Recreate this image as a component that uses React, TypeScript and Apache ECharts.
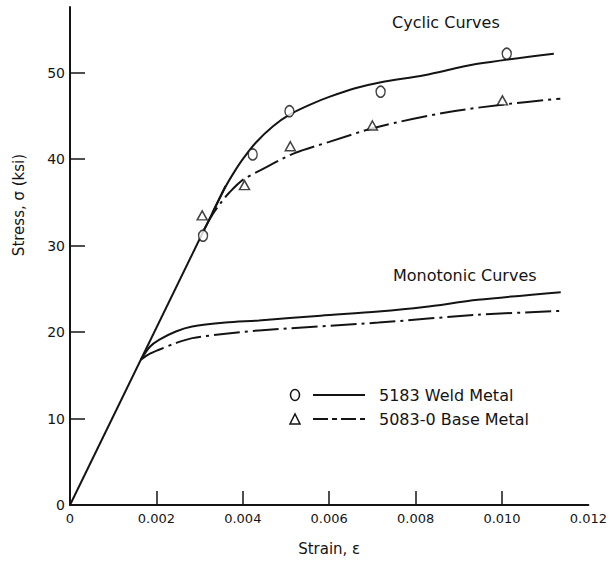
import React, { useEffect, useRef } from "react";
import * as echarts from "echarts";

// Strain tick values and stress tick values
const xTickValues = [0, 0.002, 0.004, 0.006, 0.008, 0.01, 0.012];
const xInnerTicks = [0.002, 0.004, 0.006, 0.008, 0.01];
const yTickValues = [0, 10, 20, 30, 40, 50];

// Shared elastic line [strain, stress ksi]
const elastic: number[][] = [[0, 0], [0.0036, 36.9]];
// Cyclic stress-strain curves
const cyclicWeld: number[][] = [
  [0.0033, 33.8], [0.0036, 36.8], [0.0038, 38.5], [0.004, 40.0],
  [0.0043, 41.9], [0.0047, 43.8], [0.0051, 45.2], [0.0056, 46.4], [0.006, 47.2],
  [0.0066, 48.2], [0.0072, 48.9], [0.0082, 49.7], [0.0094, 51.0], [0.0112, 52.2],
];
const cyclicBase: number[][] = [
  [0.0031, 31.8], [0.0033, 33.6], [0.0035, 35.0], [0.0037, 36.2], [0.004, 37.6],
  [0.0044, 38.7], [0.0052, 40.7], [0.006, 42.0], [0.0071, 43.7], [0.0087, 45.4],
  [0.01, 46.3], [0.01135, 47.0],
];
// Monotonic curves
const monoWeld: number[][] = [
  [0.00164, 16.8], [0.00185, 18.3], [0.00206, 19.1], [0.00245, 20.07], [0.00283, 20.65],
  [0.0036, 21.1], [0.00437, 21.34], [0.0058, 21.9], [0.00714, 22.38], [0.0082, 22.9],
  [0.00944, 23.73], [0.01136, 24.62],
];
const monoBase: number[][] = [
  [0.00164, 16.8], [0.00185, 17.5], [0.00206, 17.96], [0.00245, 18.73], [0.00283, 19.3],
  [0.0036, 19.8], [0.00437, 20.19], [0.00714, 21.1], [0.00944, 22.0], [0.01143, 22.46],
];
// Test points
const weldPoints: number[][] = [
  [0.00308, 31.15], [0.00423, 40.55], [0.00508, 45.55], [0.00719, 47.8], [0.01011, 52.2],
];
const basePoints: number[][] = [
  [0.00306, 33.5], [0.00404, 37.0], [0.0051, 41.5], [0.007, 43.9], [0.01001, 46.8],
];

const FONT = "DejaVu Sans";
const INK = "#141414";
const DASHDOT = [26, 5, 3, 5];

export default function App() {
  const ref = useRef<HTMLDivElement>(null);
  useEffect(() => {
    document.body.style.margin = "0";
    const chart = echarts.init(ref.current!, null, { renderer: "svg" });
    const lineCommon = {
      type: "line" as const,
      showSymbol: false,
      symbol: "none",
      smooth: 0.3,
      silent: true,
    };
    chart.setOption({
      animation: false,
      backgroundColor: "#fff",
      grid: { left: 70, right: 19, top: 7, bottom: 55.5, containLabel: false },
      xAxis: {
        type: "value",
        min: 0,
        max: 0.012,
        interval: 0.002,
        splitLine: { show: false },
        axisLine: { lineStyle: { color: INK, width: 2 } },
        axisTick: {
          inside: true,
          length: 14,
          lineStyle: { color: INK, width: 1.5 },
          customValues: xInnerTicks,
        },
        axisLabel: {
          customValues: xTickValues,
          color: INK,
          fontFamily: FONT,
          fontSize: 13,
          margin: 7,
          formatter: (v: number) => (v === 0 ? "0" : v.toFixed(3)),
        },
        name: "Strain, \u03b5",
        nameLocation: "middle",
        nameGap: 36,
        nameTextStyle: { color: INK, fontFamily: FONT, fontSize: 15 },
      },
      yAxis: {
        type: "value",
        min: 0,
        max: 57.6,
        splitLine: { show: false },
        axisLine: { lineStyle: { color: INK, width: 2 } },
        axisTick: {
          inside: true,
          length: 15,
          lineStyle: { color: INK, width: 1.5 },
          customValues: yTickValues.filter((v) => v > 0),
        },
        axisLabel: {
          customValues: yTickValues,
          color: INK,
          fontFamily: FONT,
          fontSize: 14,
          margin: 5,
        },
      },
      graphic: [
        {
          type: "text",
          x: 19,
          y: 205,
          rotation: Math.PI / 2,
          style: {
            text: "Stress, \u03c3 (ksi)",
            fill: INK,
            font: `15px ${FONT}`,
            align: "center",
            verticalAlign: "middle",
          },
        },
        {
          type: "text",
          x: 392,
          y: 22,
          style: { text: "Cyclic Curves", fill: INK, font: `16px ${FONT}`, verticalAlign: "middle" },
        },
        {
          type: "text",
          x: 393,
          y: 275,
          style: { text: "Monotonic Curves", fill: INK, font: `16px ${FONT}`, verticalAlign: "middle" },
        },
        {
          type: "ellipse",
          shape: { cx: 295, cy: 395, rx: 4.5, ry: 5.5 },
          style: { fill: "none", stroke: INK, lineWidth: 1.5 },
        },
        {
          type: "line",
          shape: { x1: 313, y1: 395, x2: 365, y2: 395 },
          style: { stroke: INK, lineWidth: 2 },
        },
        {
          type: "text",
          x: 379,
          y: 395,
          style: { text: "5183 Weld Metal", fill: INK, font: `16px ${FONT}`, verticalAlign: "middle" },
        },
        {
          type: "polygon",
          shape: { points: [[290, 424], [300, 424], [295, 414]] },
          style: { fill: "none", stroke: INK, lineWidth: 1.5 },
        },
        {
          type: "line",
          shape: { x1: 313, y1: 419, x2: 367, y2: 419 },
          style: { stroke: INK, lineWidth: 2, lineDash: [15, 4, 5, 4] },
        },
        {
          type: "text",
          x: 379,
          y: 419,
          style: { text: "5083-0 Base Metal", fill: INK, font: `16px ${FONT}`, verticalAlign: "middle" },
        },
      ],
      series: [
        { type: "line", name: "Elastic", data: elastic, showSymbol: false, symbol: "none", silent: true, lineStyle: { color: INK, width: 2 }, z: 3 },
        { ...lineCommon, name: "Cyclic 5183 Weld Metal", data: cyclicWeld, lineStyle: { color: INK, width: 2 }, z: 3 },
        { ...lineCommon, name: "Cyclic 5083-0 Base Metal", data: cyclicBase, lineStyle: { color: INK, width: 2, type: DASHDOT }, z: 2 },
        { ...lineCommon, name: "Monotonic 5183 Weld Metal", data: monoWeld, lineStyle: { color: INK, width: 2 }, z: 3 },
        { ...lineCommon, name: "Monotonic 5083-0 Base Metal", data: monoBase, lineStyle: { color: INK, width: 2, type: DASHDOT }, z: 2 },
        {
          type: "scatter",
          name: "5183 Weld Metal",
          data: weldPoints,
          symbol: "circle",
          symbolSize: [9, 11],
          itemStyle: { color: "#fff", borderColor: INK, borderWidth: 1.5 },
          z: 5,
        },
        {
          type: "scatter",
          name: "5083-0 Base Metal",
          data: basePoints,
          symbol: "triangle",
          symbolSize: [10, 9],
          itemStyle: { color: "#fff", borderColor: INK, borderWidth: 1.5 },
          z: 5,
        },
      ],
    });
    return () => chart.dispose();
  }, []);
  return <div ref={ref} style={{ width: 610, height: 561 }} />;
}
